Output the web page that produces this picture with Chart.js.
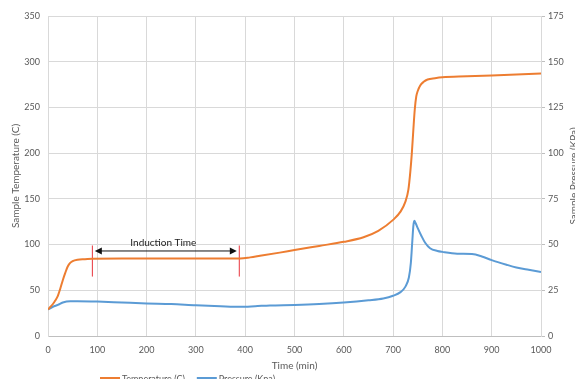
<!DOCTYPE html>
<html>
<head>
<meta charset="utf-8">
<script src="https://cdn.jsdelivr.net/npm/chart.js@4.4.0/dist/chart.umd.min.js"></script>
<style>
  html, body { margin: 0; padding: 0; background: #fff; overflow: hidden; }
  #wrap { width: 575px; height: 379px; position: relative; }
</style>
</head>
<body>
<div id="wrap"><canvas id="chart"></canvas></div>
<script>
    "use strict";

    // Temperature series (time in min, sample temperature in C)
    var tempTime = [0, 5, 10, 15, 20, 25, 30, 35, 40, 45, 50, 60, 75, 90, 150, 250, 390, 410, 430, 470, 500, 550, 600, 640, 670, 700, 715, 725, 731, 735, 738, 741, 744, 747, 750, 755, 762, 770, 785, 800, 850, 900, 950, 1000];
    var tempValues = [29, 32, 35, 39, 44, 52, 61, 69, 76, 80, 82, 83.5, 84, 84.5, 84.7, 84.7, 84.8, 86, 87.7, 91.2, 94, 98.5, 103, 108, 115, 127, 136, 147, 160, 180, 200, 225, 248, 262, 268, 274, 278, 280.5, 282, 283, 284, 285, 286, 287];

    // Pressure series (time in min, sample pressure in KPa)
    var presTime = [0, 10, 20, 30, 45, 60, 100, 150, 200, 250, 300, 350, 390, 420, 450, 500, 550, 600, 650, 680, 700, 715, 725, 732, 736, 739, 741, 743, 746, 750, 757, 765, 775, 790, 800, 830, 860, 880, 900, 930, 950, 975, 1000];
    var presValues = [14.5, 16, 17, 18.3, 19, 19, 18.8, 18.3, 17.8, 17.5, 16.8, 16.3, 16, 16.3, 16.7, 17, 17.5, 18.3, 19.5, 20.5, 22, 24, 27, 32, 40, 52, 60, 63, 61.5, 59, 55, 51, 48, 46.5, 46, 45, 44.8, 43.5, 41.5, 39, 37.5, 36.2, 35];

    // Axis ticks
    var timeTicks = [0, 1000, 100];      // min, max, step
    var tempTicks = [0, 350, 50];
    var presTicks = [0, 175, 25];

    // Induction time annotation
    var inductionBounds = [90, 388];     // red markers (min)
    var markerRange = [65, 99];          // marker span (C)
    var arrowSpan = [95, 383];           // arrow tips (min)
    var arrowLevel = 93;                 // arrow height (C)
    var inductionLabel = ["Induction Time", 234, 102.5];

    var seriesLabels = ["Temperature (C)", "Pressure (Kpa)"];
    var axisTitles = ["Time (min)", "Sample Temperature (C)", "Sample Pressure (KPa)"];

    var ORANGE = "#ED7D31";
    var BLUE = "#5B9BD5";
    var GRID = "#d9d9d9";
    var TEXT = "#595959";
    var FONT = "Lato, 'Open Sans', sans-serif";

    var toPoints = function (xs, ys) {
        return xs.map(function (x, i) { return {x: x, y: ys[i]}; });
    };

    var datasets = [{
        label: seriesLabels[0],
        data: toPoints(tempTime, tempValues),
        borderColor: ORANGE,
        borderWidth: 2,
        pointRadius: 0,
        cubicInterpolationMode: "monotone",
        yAxisID: "y"
    }, {
        label: seriesLabels[1],
        data: toPoints(presTime, presValues),
        borderColor: BLUE,
        borderWidth: 2,
        pointRadius: 0,
        cubicInterpolationMode: "monotone",
        yAxisID: "y1"
    }];

    inductionBounds.forEach(function (b) {
        datasets.push({
            label: "",
            data: [{x: b, y: markerRange[0]}, {x: b, y: markerRange[1]}],
            borderColor: "#e8343c",
            borderWidth: 1,
            pointRadius: 0,
            yAxisID: "y"
        });
    });

    // Arrow, label, legend and right title
    var overlay = {
        id: "overlay",
        afterDatasetsDraw: function (chart) {
            var ctx = chart.ctx;
            var xs = chart.scales.x, ys = chart.scales.y;
            var x1 = xs.getPixelForValue(arrowSpan[0]);
            var x2 = xs.getPixelForValue(arrowSpan[1]);
            var y = ys.getPixelForValue(arrowLevel);
            ctx.save();
            ctx.strokeStyle = "#111";
            ctx.fillStyle = "#111";
            ctx.lineWidth = 1;
            ctx.beginPath();
            ctx.moveTo(x1 + 4, y);
            ctx.lineTo(x2 - 4, y);
            ctx.stroke();
            ctx.beginPath();
            ctx.moveTo(x1, y); ctx.lineTo(x1 + 7, y - 3.5); ctx.lineTo(x1 + 7, y + 3.5); ctx.closePath();
            ctx.moveTo(x2, y); ctx.lineTo(x2 - 7, y - 3.5); ctx.lineTo(x2 - 7, y + 3.5); ctx.closePath();
            ctx.fill();

            ctx.font = "10px " + FONT;
            ctx.fillStyle = "#222";
            ctx.textAlign = "center";
            ctx.textBaseline = "middle";
            ctx.fillText(inductionLabel[0], xs.getPixelForValue(inductionLabel[1]), ys.getPixelForValue(inductionLabel[2]));
            ctx.restore();
        },
        afterDraw: function (chart) {
            var ctx = chart.ctx;
            var area = chart.chartArea;
            ctx.save();
            ctx.font = "10px " + FONT;
            ctx.fillStyle = TEXT;
            ctx.textBaseline = "middle";

            // right axis title, reading bottom to top
            ctx.save();
            ctx.translate(574, (area.top + area.bottom) / 2);
            ctx.rotate(-Math.PI / 2);
            ctx.textAlign = "center";
            ctx.fillText(axisTitles[2], 0, 0);
            ctx.restore();

            // legend
            var lx = 100, ly = 379;
            ctx.font = "9px " + FONT;
            ctx.textAlign = "left";
            [0, 1].forEach(function (i) {
                var ds = chart.data.datasets[i];
                ctx.strokeStyle = ds.borderColor;
                ctx.lineWidth = 2;
                ctx.beginPath();
                ctx.moveTo(lx, ly - 1);
                ctx.lineTo(lx + 20, ly - 1);
                ctx.stroke();
                ctx.fillText(ds.label, lx + 22, ly);
                lx += 22 + ctx.measureText(ds.label).width + 12;
            });
            ctx.restore();
        }
    };

    var tickFont = {family: FONT, size: 9};
    var plainTick = function (v) { return String(v); };

    new Chart(document.getElementById("chart"), {
        type: "line",
        data: {datasets: datasets},
        options: {
            responsive: true,
            maintainAspectRatio: false,
            animation: false,
            layout: {padding: {top: 16, left: 0, right: 0, bottom: 0}},
            plugins: {
                legend: {display: false},
                tooltip: {enabled: false}
            },
            scales: {
                x: {
                    type: "linear",
                    min: timeTicks[0],
                    max: timeTicks[1],
                    ticks: {stepSize: timeTicks[2], color: TEXT, font: tickFont, padding: 9, maxRotation: 0, callback: plainTick},
                    grid: {color: GRID, drawTicks: false},
                    border: {color: "#bfbfbf"},
                    title: {display: true, text: axisTitles[0], color: TEXT, font: {family: FONT, size: 10}, padding: {top: 0, bottom: 7.6}},
                    afterFit: function (scale) { scale.height = 43; }
                },
                y: {
                    position: "left",
                    min: tempTicks[0],
                    max: tempTicks[1],
                    ticks: {stepSize: tempTicks[2], color: TEXT, font: tickFont, padding: 8, callback: plainTick},
                    grid: {color: GRID, drawTicks: false},
                    border: {color: GRID},
                    title: {display: true, text: axisTitles[1], color: TEXT, font: {family: FONT, size: 10}, padding: {top: 9.6, bottom: 0}},
                    afterFit: function (scale) { scale.width = 48; }
                },
                y1: {
                    position: "right",
                    min: presTicks[0],
                    max: presTicks[1],
                    ticks: {stepSize: presTicks[2], color: TEXT, font: tickFont, padding: 3, callback: plainTick},
                    grid: {drawOnChartArea: false, color: "#bfbfbf", tickLength: 4},
                    border: {color: GRID},
                    afterFit: function (scale) { scale.width = 34; }
                }
            }
        },
        plugins: [overlay]
    });
</script>
</body>
</html>
